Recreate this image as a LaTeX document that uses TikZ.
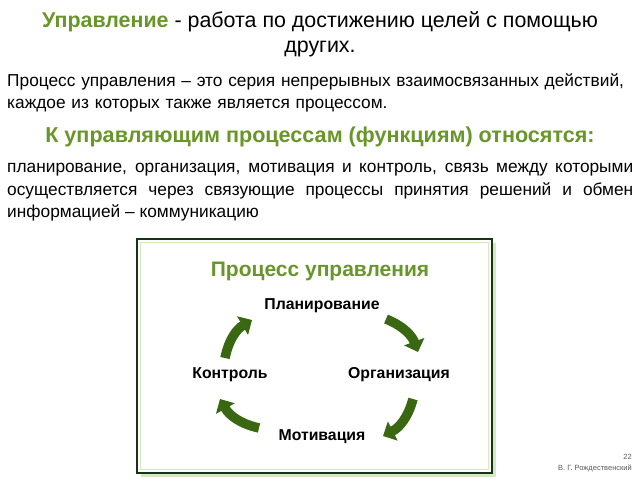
\documentclass[tikz,border=0pt]{standalone}
\usepackage{fontspec}
\setmainfont{Liberation Sans}
\usetikzlibrary{arrows.meta}

\definecolor{titlegreen}{RGB}{104,150,40}
\definecolor{arrowgreen}{RGB}{58,104,18}
\definecolor{boxdark}{RGB}{24,52,24}
\definecolor{boxlight}{RGB}{214,232,190}
\definecolor{footgray}{RGB}{90,90,90}

\tikzset{
	slidetext/.style={anchor=north west, inner sep=0pt, font=\fontsize{17.3}{22.5}\selectfont},
	stepname/.style={font=\bfseries\fontsize{15.8}{18}\selectfont, inner sep=1pt},
	cycarrow/.style={draw=arrowgreen, line width=9.5pt, -{Triangle[length=11pt,width=21pt]}, bend left=24}
}

\begin{document}
\begin{tikzpicture}[x=1pt, y=-1pt]
	\useasboundingbox (0,0) rectangle (640,480);

	\node[align=center, inner sep=0pt, font=\fontsize{21.4}{25}\selectfont] (title) at (320,34)
		{\textcolor{titlegreen}{\bfseries Управление} - работа по достижению целей с помощью\\ других.};

	\node[slidetext, text width=626pt] (def) at (7,73)
		{Процесс управления – это серия непрерывных взаимосвязанных действий,\\ каждое из которых также является процессом.};

	\node[inner sep=0pt, text=titlegreen, font=\bfseries\fontsize{21.6}{24}\selectfont] (funchead) at (320,137)
		{К управляющим процессам (функциям) относятся:};

	\node[slidetext, text width=626pt, align=justify] (funcs) at (7,163)
		{планирование, организация, мотивация и контроль, связь между которыми\linebreak осуществляется через связующие процессы принятия решений и обмен\linebreak информацией – коммуникацию};

	% frame with shadow
	\fill[boxlight] (141,243) rectangle (496,477);
	\draw[boxdark, line width=1.6pt, fill=white] (137,239) rectangle (492,473);
	\draw[boxlight, line width=1pt] (140.5,242.5) rectangle (488.5,469.5);

	\node[text=titlegreen, font=\bfseries\fontsize{21}{24}\selectfont] (proc) at (320,271) {Процесс управления};

	\node[stepname] (plan) at (322,306) {Планирование};
	\node[stepname] (org) at (399,375) {Организация};
	\node[stepname] (motiv) at (322,437) {Мотивация};
	\node[stepname] (ctrl) at (230,375) {Контроль};

	\coordinate (pl-out) at (386,319);
	\coordinate (org-in) at (418,352);
	\coordinate (org-out) at (413,399);
	\coordinate (mo-in) at (383,436);
	\coordinate (mo-out) at (259,428);
	\coordinate (ct-in) at (220,399);
	\coordinate (ct-out) at (225,358);
	\coordinate (pl-in) at (252,320);

	\draw[cycarrow] (pl-out) to (org-in);
	\draw[cycarrow] (org-out) to (mo-in);
	\draw[cycarrow] (mo-out) to (ct-in);
	\draw[cycarrow] (ct-out) to (pl-in);

	\node[text=footgray, font=\fontsize{7.5}{9}\selectfont, anchor=east, inner sep=0pt] (pagenum) at (632,457) {22};
	\node[text=footgray, font=\fontsize{7.5}{9}\selectfont, anchor=east, inner sep=0pt] (author) at (632,468) {В. Г. Рождественский};
\end{tikzpicture}
\end{document}
